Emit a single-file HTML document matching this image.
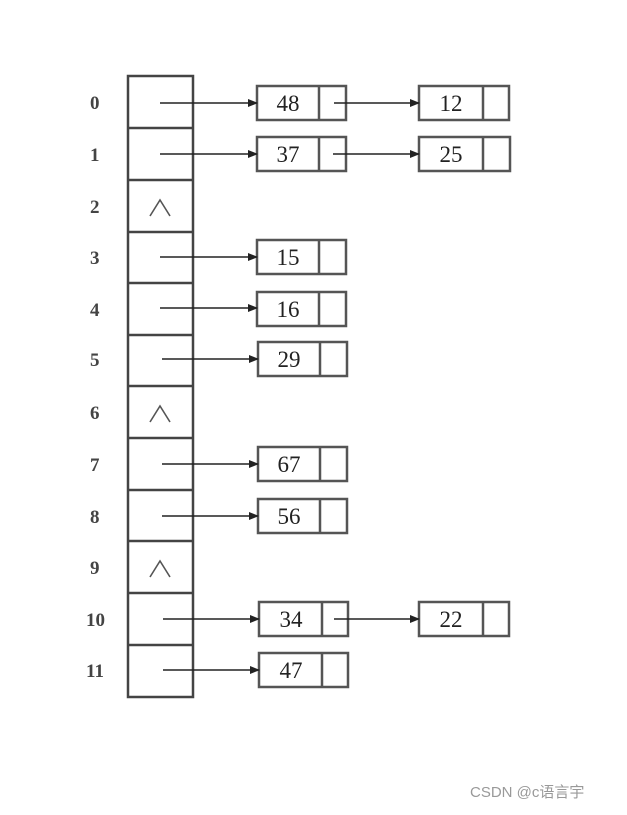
<!DOCTYPE html>
<html><head><meta charset="utf-8"><style>
body{margin:0;background:#fff}
</style></head><body>
<svg width="627" height="810" viewBox="0 0 627 810" xmlns="http://www.w3.org/2000/svg">
<defs><marker id="a" markerWidth="10" markerHeight="8" refX="9" refY="4" orient="auto" markerUnits="userSpaceOnUse"><path d="M0,0 L10,4 L0,8 Z" fill="#222"/></marker></defs>
<g font-family="Liberation Serif, serif" fill="#444" font-size="19" font-weight="bold">
<text x="90" y="109">0</text><text x="90" y="161">1</text><text x="90" y="213">2</text>
<text x="90" y="264">3</text><text x="90" y="316">4</text><text x="90" y="366">5</text>
<text x="90" y="419">6</text><text x="90" y="471">7</text><text x="90" y="523">8</text>
<text x="90" y="574">9</text><text x="86" y="626">10</text><text x="86" y="677">11</text>
</g>
<g stroke="#444" stroke-width="2.5" fill="none">
<rect x="128" y="76" width="65" height="621"/>
<line x1="128" y1="128" x2="193" y2="128"/><line x1="128" y1="180" x2="193" y2="180"/>
<line x1="128" y1="232" x2="193" y2="232"/><line x1="128" y1="283" x2="193" y2="283"/>
<line x1="128" y1="335" x2="193" y2="335"/><line x1="128" y1="386" x2="193" y2="386"/>
<line x1="128" y1="438" x2="193" y2="438"/><line x1="128" y1="490" x2="193" y2="490"/>
<line x1="128" y1="541" x2="193" y2="541"/><line x1="128" y1="593" x2="193" y2="593"/>
<line x1="128" y1="645" x2="193" y2="645"/>
</g>
<g fill="none" stroke="#555" stroke-width="1.6">
<path d="M150,216 L160,200 L170,216"/><path d="M150,422 L160,406 L170,422"/><path d="M150,577 L160,561 L170,577"/>
</g>
<g stroke="#555" stroke-width="2.5" fill="none">
<rect x="257" y="86" width="89" height="34"/><line x1="319" y1="86" x2="319" y2="120"/>
<rect x="419" y="86" width="90" height="34"/><line x1="483" y1="86" x2="483" y2="120"/>
<rect x="257" y="137" width="89" height="34"/><line x1="319" y1="137" x2="319" y2="171"/>
<rect x="419" y="137" width="91" height="34"/><line x1="483" y1="137" x2="483" y2="171"/>
<rect x="257" y="240" width="89" height="34"/><line x1="319" y1="240" x2="319" y2="274"/>
<rect x="257" y="292" width="89" height="34"/><line x1="319" y1="292" x2="319" y2="326"/>
<rect x="258" y="342" width="89" height="34"/><line x1="320" y1="342" x2="320" y2="376"/>
<rect x="258" y="447" width="89" height="34"/><line x1="320" y1="447" x2="320" y2="481"/>
<rect x="258" y="499" width="89" height="34"/><line x1="320" y1="499" x2="320" y2="533"/>
<rect x="259" y="602" width="89" height="34"/><line x1="322" y1="602" x2="322" y2="636"/>
<rect x="419" y="602" width="90" height="34"/><line x1="483" y1="602" x2="483" y2="636"/>
<rect x="259" y="653" width="89" height="34"/><line x1="322" y1="653" x2="322" y2="687"/>
</g>
<g stroke="#222" stroke-width="1.6" marker-end="url(#a)">
<line x1="160" y1="103" x2="257" y2="103"/><line x1="334" y1="103" x2="419" y2="103"/>
<line x1="160" y1="154" x2="257" y2="154"/><line x1="333" y1="154" x2="419" y2="154"/>
<line x1="160" y1="257" x2="257" y2="257"/>
<line x1="160" y1="308" x2="257" y2="308"/>
<line x1="162" y1="359" x2="258" y2="359"/>
<line x1="162" y1="464" x2="258" y2="464"/>
<line x1="162" y1="516" x2="258" y2="516"/>
<line x1="163" y1="619" x2="259" y2="619"/><line x1="334" y1="619" x2="419" y2="619"/>
<line x1="163" y1="670" x2="259" y2="670"/>
</g>
<g font-family="Liberation Serif, serif" fill="#222" font-size="23" text-anchor="middle">
<text x="288" y="111">48</text><text x="451" y="111">12</text>
<text x="288" y="162">37</text><text x="451" y="162">25</text>
<text x="288" y="265">15</text><text x="288" y="317">16</text><text x="289" y="367">29</text>
<text x="289" y="472">67</text><text x="289" y="524">56</text>
<text x="291" y="627">34</text><text x="451" y="627">22</text><text x="291" y="678">47</text>
</g>
<text x="470" y="797" font-family="Liberation Sans, Noto Sans CJK SC, sans-serif" font-size="15" fill="#999">CSDN @c语言宇</text>
</svg>
</body></html>
